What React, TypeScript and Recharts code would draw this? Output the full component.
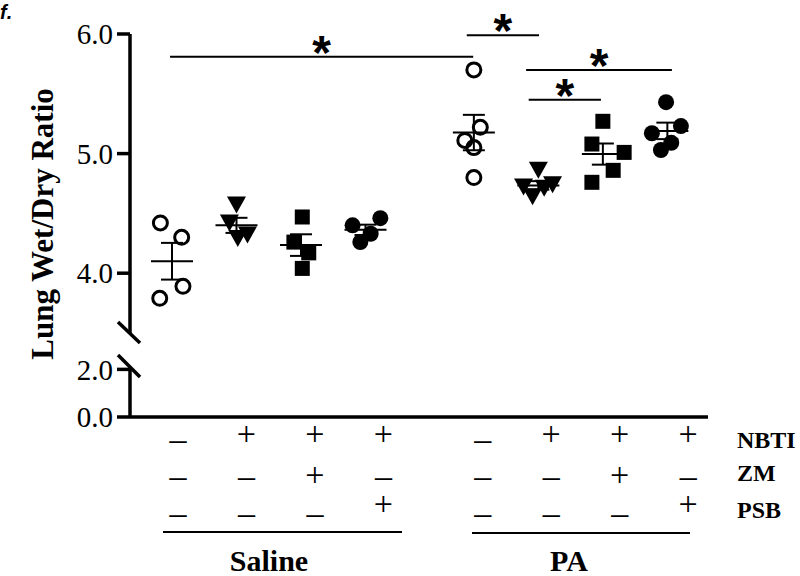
import { ScatterChart, Scatter, XAxis, YAxis, ErrorBar, ReferenceLine } from "recharts";

// x position of each treatment column (top chart x axis units)
const groupX = [1, 2, 3, 4, 5.68, 6.68, 7.68, 8.68];

// lung wet/dry ratios, one array per column
const salineVehicle = [4.42, 4.3, 3.89, 3.79];
const salineNbti = [4.57, 4.42, 4.32, 4.29];
const salineNbtiZm = [4.47, 4.26, 4.17, 4.04];
const salineNbtiPsb = [4.46, 4.4, 4.33, 4.26];
const paVehicle = [5.7, 5.22, 5.11, 5.05, 4.8];
const paNbti = [4.86, 4.72, 4.64, 4.71, 4.74];
const paNbtiZm = [5.27, 5.08, 5.01, 4.86, 4.76];
const paNbtiPsb = [5.43, 5.23, 5.17, 5.09, 5.03];

// horizontal scatter of the dots inside each column
const salineVehicleJitter = [-0.18, 0.15, 0.17, -0.19];
const salineNbtiJitter = [0, -0.11, 0.17, 0.02];
const salineNbtiZmJitter = [0.02, -0.11, 0.12, 0.02];
const salineNbtiPsbJitter = [0.23, -0.2, 0.08, -0.08];
const paVehicleJitter = [0, 0.1, -0.14, 0, 0];
const paNbtiJitter = [0, -0.23, -0.09, 0.09, 0.22];
const paNbtiZmJitter = [0, -0.17, 0.33, 0.16, -0.17];
const paNbtiPsbJitter = [-0.02, 0.21, -0.24, 0.06, -0.1];

// treatment table under the axis
const labelX = [1, 2, 3, 4, 5.45, 6.45, 7.45, 8.45];
const nbtiRow = ["–", "+", "+", "+", "–", "+", "+", "+"];
const zmRow = ["–", "–", "+", "–", "–", "–", "+", "–"];
const psbRow = ["–", "–", "–", "+", "–", "–", "–", "+"];
const rowNames = ["NBTI", "ZM", "PSB"];
const groupNames = ["Saline", "PA"];

// significance bars
const sigX1 = [0.97, 5.57, 6.49, 6.53];
const sigX2 = [5.67, 6.69, 8.75, 7.65];
const sigY = [5.81, 5.99, 5.7, 5.45];

const upperTicks = [4, 5, 6];
const lowerTicks = [0, 2];

const SERIF = "'Liberation Serif', 'Times New Roman', serif";
const SANS = "'Liberation Sans', Arial, sans-serif";
const TOP_H = 340;

const toPoints = (values: number[], jitter: number[], x: number) =>
  values.map((v, i) => ({ x: x + jitter[i], y: v }));

const mean = (v: number[]) => v.reduce((a, b) => a + b, 0) / v.length;
const sem = (v: number[]) => {
  const m = mean(v);
  const sd = Math.sqrt(v.reduce((a, b) => a + (b - m) ** 2, 0) / (v.length - 1));
  return sd / Math.sqrt(v.length);
};

const OpenCircle = ({ cx, cy }: any) => (
  <circle cx={cx} cy={cy} r={7} fill="none" stroke="#000" strokeWidth={3} />
);
const Dot = ({ cx, cy }: any) => <circle cx={cx} cy={cy} r={8} fill="#000" />;
const Square = ({ cx, cy }: any) => (
  <rect x={cx - 7.5} y={cy - 7.5} width={15} height={15} fill="#000" />
);
const TriangleDown = ({ cx, cy }: any) => (
  <path d={`M${cx - 9.5},${cy - 8.5}L${cx + 9.5},${cy - 8.5}L${cx},${cy + 8.5}Z`} fill="#000" />
);
const MeanLine = ({ cx, cy }: any) => (
  <line x1={cx - 21} x2={cx + 21} y1={cy} y2={cy} stroke="#000" strokeWidth={2} />
);

const columns = [
  { values: salineVehicle, jitter: salineVehicleJitter, shape: OpenCircle },
  { values: salineNbti, jitter: salineNbtiJitter, shape: TriangleDown },
  { values: salineNbtiZm, jitter: salineNbtiZmJitter, shape: Square },
  { values: salineNbtiPsb, jitter: salineNbtiPsbJitter, shape: Dot },
  { values: paVehicle, jitter: paVehicleJitter, shape: OpenCircle },
  { values: paNbti, jitter: paNbtiJitter, shape: TriangleDown },
  { values: paNbtiZm, jitter: paNbtiZmJitter, shape: Square },
  { values: paNbtiPsb, jitter: paNbtiPsbJitter, shape: Dot },
];

const summary = columns.map((c, i) => ({ x: groupX[i], y: mean(c.values), sem: sem(c.values) }));

const axisStyle = { stroke: "#000", strokeWidth: 3.5 };
const tickStyle = { fontSize: 29, fontFamily: SERIF, fill: "#000" };

function SignTick({ x, y, payload }: any) {
  const i = labelX.indexOf(payload.value);
  if (i < 0) return null;
  const rows = [nbtiRow[i], zmRow[i], psbRow[i]];
  // baselines below the axis line; "+" sits a little higher than "–"
  const minusDy = [33, 70, 107];
  const plusDy = [28, 69, 98];
  return (
    <g>
      {rows.map((s, r) => (
        <text
          key={r}
          x={x}
          y={y + (s === "+" ? plusDy[r] : minusDy[r])}
          textAnchor="middle"
          fontFamily={SERIF}
          fontSize={34}
          fill="#000"
        >
          {s}
        </text>
      ))}
    </g>
  );
}

export default function App() {
  return (
    <div style={{ position: "absolute", left: 0, top: 0, width: 800, height: 576, background: "#fff" }}>
      <div style={{ position: "absolute", left: 0, top: 0 }}>
        <ScatterChart width={800} height={TOP_H} margin={{ top: 34, right: 92, bottom: 7, left: 0 }}>
          <XAxis dataKey="x" type="number" domain={[0.349, 9.31]} hide allowDataOverflow />
          <YAxis
            dataKey="y"
            type="number"
            domain={[3.5, 6]}
            ticks={upperTicks}
            tickFormatter={(v: number) => v.toFixed(1)}
            width={130}
            tickSize={13}
            tickMargin={4}
            axisLine={axisStyle}
            tickLine={axisStyle}
            tick={tickStyle}
            allowDataOverflow
          />
          {sigY.map((y, i) => (
            <ReferenceLine
              key={i}
              segment={[{ x: sigX1[i], y }, { x: sigX2[i], y }]}
              stroke="#000"
              strokeWidth={2}
              ifOverflow="visible"
              label={{
                value: "*",
                position: "top",
                offset: -12,
                fontSize: 48,
                fontWeight: "bold",
                fontFamily: SANS,
                fill: "#000",
              }}
            />
          ))}
          {columns.map((c, i) => (
            <Scatter
              key={i}
              data={toPoints(c.values, c.jitter, groupX[i])}
              shape={c.shape}
              isAnimationActive={false}
            />
          ))}
          <Scatter data={summary} shape={MeanLine} isAnimationActive={false}>
            <ErrorBar dataKey="sem" direction="y" width={11} stroke="#000" strokeWidth={2} />
          </Scatter>
        </ScatterChart>
      </div>
      <div style={{ position: "absolute", left: 0, top: TOP_H }}>
        <ScatterChart width={800} height={576 - TOP_H} margin={{ top: 27, right: 92, bottom: 0, left: 0 }}>
          <XAxis
            dataKey="x"
            type="number"
            domain={[0.3, 8.74]}
            ticks={labelX}
            interval={0}
            height={159}
            axisLine={axisStyle}
            tickLine={false}
            tickSize={0}
            tickMargin={0}
            tick={<SignTick />}
            allowDataOverflow
          />
          <YAxis
            dataKey="y"
            type="number"
            domain={[0, 2.1]}
            ticks={lowerTicks}
            tickFormatter={(v: number) => v.toFixed(1)}
            width={130}
            tickSize={13}
            tickMargin={4}
            axisLine={axisStyle}
            tickLine={axisStyle}
            tick={tickStyle}
            allowDataOverflow
          />
          <Scatter data={[]} isAnimationActive={false} />
        </ScatterChart>
      </div>
      <svg
        width={800}
        height={576}
        style={{ position: "absolute", left: 0, top: 0, pointerEvents: "none" }}
      >
        <text x={0} y={19} fontFamily={SANS} fontWeight="bold" fontStyle="italic" fontSize={20}>
          f.
        </text>
        <text
          transform="translate(53,224) rotate(-90)"
          textAnchor="middle"
          fontFamily={SERIF}
          fontWeight="bold"
          fontSize={31}
        >
          Lung Wet/Dry Ratio
        </text>
        {/* axis break marks */}
        <line x1={118} y1={322} x2={140} y2={343} stroke="#000" strokeWidth={3.5} />
        <line x1={118} y1={355} x2={140} y2={377} stroke="#000" strokeWidth={3.5} />
        {/* group brackets */}
        <line x1={163} y1={532} x2={402} y2={532} stroke="#000" strokeWidth={2} />
        <line x1={472} y1={533} x2={690} y2={533} stroke="#000" strokeWidth={2} />
        <text x={269} y={571} textAnchor="middle" fontFamily={SERIF} fontWeight="bold" fontSize={30}>
          {groupNames[0]}
        </text>
        <text x={569} y={571} textAnchor="middle" fontFamily={SERIF} fontWeight="bold" fontSize={30}>
          {groupNames[1]}
        </text>
        {rowNames.map((n, i) => (
          <text key={n} x={737} y={[448, 481, 518][i]} fontFamily={SERIF} fontWeight="bold" fontSize={24}>
            {n}
          </text>
        ))}
      </svg>
    </div>
  );
}
